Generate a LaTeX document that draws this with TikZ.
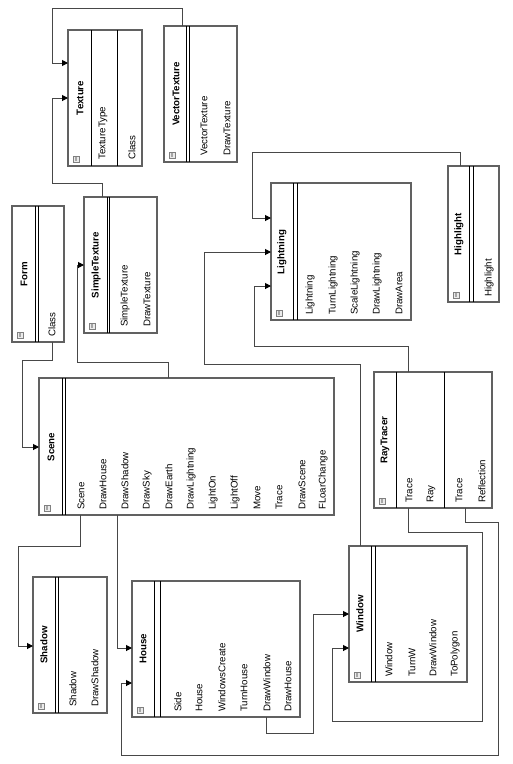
\documentclass[tikz,border=0pt]{standalone}
\usepackage{fontspec}
\setmainfont{Liberation Sans}
\usetikzlibrary{arrows.meta}
\tikzset{
 box/.style={draw=black!62, line width=1.1pt, fill=white, inner sep=0pt, outer sep=0pt},
 divline/.style={draw=black, line width=0.6pt},
 conn/.style={draw=black!72, line width=1pt, -{Triangle[length=6pt,width=6pt,color=black]}},
 ttl/.style={rotate=90, font=\fontsize{9.7}{11}\selectfont\bfseries, inner sep=0pt},
 mem/.style={rotate=90, anchor=west, font=\fontsize{9.7}{11}\selectfont, inner sep=0pt},
 icon/.style={draw=black!50, fill=black!8, minimum size=6pt, inner sep=0pt, line width=0.6pt},
}
\newcommand\umlbox[7]{% name, x1, y1, x2, y2, div1, div2
 \node[box, anchor=north west, minimum width={(#4-#2)*1pt}, minimum height={(#5-#3)*1pt}] (#1) at (#2,#3) {};
 \draw[divline] (#6,#3) -- (#6,#5);
 \draw[divline] (#7,#3) -- (#7,#5);
 \node[icon] (#1-icon) at (#2+8,#5-7) {};
 \fill[black!35] (#2+7,#5-9) rectangle (#2+9,#5-5);
}
\begin{document}
\begin{tikzpicture}[x=1pt,y=-1pt]
\useasboundingbox[fill=white] (0,0) rectangle (513,764);

% boxes
\umlbox{texture}{68}{30}{142}{166}{91}{117}
\umlbox{vector}{164}{26}{237}{162}{186}{189}
\umlbox{form}{12}{206}{64}{342}{35}{38}
\umlbox{simple}{84}{197}{157}{333}{107}{109}
\umlbox{scene}{39}{378}{334}{515}{62}{65}
\umlbox{shadow}{33}{577}{107}{713}{55}{58}
\umlbox{house}{132}{581}{300}{717}{154}{160}
\umlbox{window}{349}{546}{467}{682}{371}{375}
\umlbox{lightning}{271}{183}{411}{320}{293}{297}
\umlbox{highlight}{448}{166}{499}{302}{469}{473}
\umlbox{ray}{374}{372}{492}{508}{396}{444}

% titles
\node[ttl] (texture-t) at (80,98) {Texture};
\node[ttl] (vector-t) at (176,94) {VectorTexture};
\node[ttl] (form-t) at (24,274) {Form};
\node[ttl] (simple-t) at (96,265) {SimpleTexture};
\node[ttl] (scene-t) at (51,447) {Scene};
\node[ttl] (shadow-t) at (44,645) {Shadow};
\node[ttl] (house-t) at (143,649) {House};
\node[ttl] (window-t) at (360,614) {Window};
\node[ttl] (lightning-t) at (282,252) {Lightning};
\node[ttl] (highlight-t) at (459,234) {Highlight};
\node[ttl] (ray-t) at (385,440) {RayTracer};

% members
\foreach \t/\x [count=\i] in {TextureType/103, Class/132}
  \node[mem] (texture-m\i) at (\x,160) {\t};
\foreach \t/\x [count=\i] in {VectorTexture/204, DrawTexture/227}
  \node[mem] (vector-m\i) at (\x,156) {\t};
\node[mem] (form-m1) at (52,337) {Class};
\foreach \t/\x [count=\i] in {SimpleTexture/125, DrawTexture/147}
  \node[mem] (simple-m\i) at (\x,327) {\t};
\foreach \t/\x [count=\i] in {Scene/81, DrawHouse/103, DrawShadow/125, DrawSky/147, DrawEarth/169, DrawLightning/191, LightOn/213, LightOff/235, Move/257, Trace/279, DrawScene/302, FLoarChange/323}
  \node[mem] (scene-m\i) at (\x,510) {\t};
\foreach \t/\x [count=\i] in {Shadow/73, DrawShadow/95}
  \node[mem] (shadow-m\i) at (\x,707) {\t};
\foreach \t/\x [count=\i] in {Side/178, House/199, WindowsCreate/222, TurnHouse/244, DrawWindow/267, DrawHouse/288}
  \node[mem] (house-m\i) at (\x,712) {\t};
\foreach \t/\x [count=\i] in {Window/389, TurnW/412, DrawWindow/433, ToPolygon/455}
  \node[mem] (window-m\i) at (\x,677) {\t};
\foreach \t/\x [count=\i] in {Lightning/310, TurnLightning/333, ScaleLightning/355, DrawLightning/377, DrawArea/399}
  \node[mem] (lightning-m\i) at (\x,315) {\t};
\node[mem] (highlight-m1) at (489,297) {Highlight};
\foreach \t/\x [count=\i] in {Trace/409, Ray/431, Trace/459, Reflection/482}
  \node[mem] (ray-m\i) at (\x,503) {\t};

% connectors
\draw[conn] ([xshift=18pt]vector.north west) |- (52,8) |- ([yshift=-33pt]texture.north west);
\draw[conn] ([xshift=18pt]simple.north west) |- (52,183) |- ([yshift=-68pt]texture.north west);
\draw[conn] ([xshift=40pt]form.south west) |- (22,360) |- ([yshift=-69pt]scene.north west);
\draw[conn] ([xshift=129pt]scene.north west) |- (77,362) |- ([yshift=-68pt]simple.north west);
\draw[conn] ([xshift=41pt]scene.south west) |- (18,546) |- ([yshift=-69pt]shadow.north west);
\draw[conn] ([xshift=78pt]scene.south west) |- ([yshift=-67pt]house.north west);
\draw[conn] ([xshift=134pt]house.south west) |- (313,733) |- ([yshift=-68pt]window.north west);
\draw[conn] ([xshift=34pt]ray.south west) |- (482,532) |- (332,721) |- ([yshift=-102pt]window.north west);
\draw[conn] ([xshift=91pt]ray.south west) |- (498,522) |- (121,755) |- ([yshift=-102pt]house.north west);
\draw[conn] ([xshift=11pt]window.north west) |- (204,364) |- ([yshift=-69pt]lightning.north west);
\draw[conn] ([xshift=34pt]ray.north west) |- (254,346) |- ([yshift=-103pt]lightning.north west);
\draw[conn] ([xshift=12pt]highlight.north west) |- (252,152) |- ([yshift=-35pt]lightning.north west);
\end{tikzpicture}
\end{document}
